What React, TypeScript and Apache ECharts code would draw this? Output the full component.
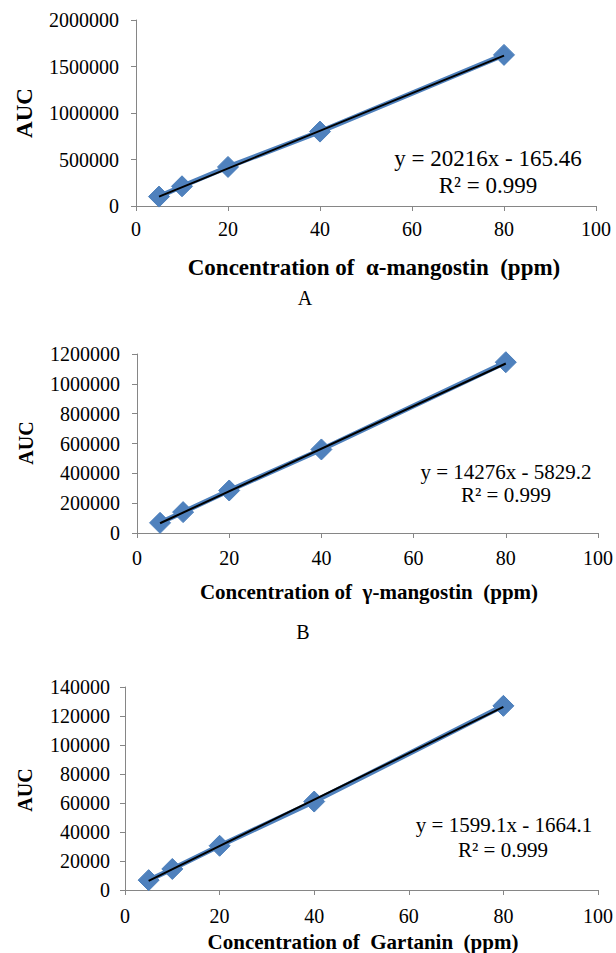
import React, { useEffect, useRef } from "react";
import * as echarts from "echarts";

const concentrations = [5, 10, 20, 40, 80];
const aucAlpha = [101000, 212000, 420000, 800000, 1625000];
const aucGamma = [68000, 140000, 285000, 560000, 1145000];
const aucGartanin = [6800, 14500, 30500, 61000, 127000];

// trendline endpoints (x = 5 and x = 80) as drawn in the picture
const trendX = [5, 80];
const trendAlpha = [100915, 1617115];
const trendGamma = [65551, 1136251];
const trendGartanin = [6331, 126264];

const xTicks = { min: 0, max: 100, interval: 20 };
const yMaxes = [2000000, 1200000, 140000];
const yIntervals = [500000, 200000, 20000];

const equations = ["y = 20216x - 165.46", "y = 14276x - 5829.2", "y = 1599.1x - 1664.1"];
const r2Labels = ["R² = 0.999", "R² = 0.999", "R² = 0.999"];
const xTitles = [
  "Concentration of  α-mangostin  (ppm)",
  "Concentration of  γ-mangostin  (ppm)",
  "Concentration of  Gartanin  (ppm)",
];
const panelLetters = ["A", "B"];
const yTitle = "AUC";

const FONT = "Liberation Serif";
const BLUE = "#4f81bd";
const AXIS = "#868686";

export default function App() {
  const ref = useRef<HTMLDivElement>(null);
  useEffect(() => {
    if (!ref.current) return;
    const chart = echarts.init(ref.current, undefined, { renderer: "svg" });
    const grids = [
      { left: 136, top: 20, width: 460, height: 186 },
      { left: 137, top: 354, width: 461, height: 179 },
      { left: 125, top: 687, width: 473, height: 203 },
    ];
    const datasets = [aucAlpha, aucGamma, aucGartanin];
    const trends = [trendAlpha, trendGamma, trendGartanin];
    const xLabelMargins = [13, 15, 16];
    const yLabelMargins = [17, 17, 15];

    const labelStyle = {
      color: "#000",
      fontFamily: FONT,
      fontSize: 20,
      formatter: (v: number) => String(v),
    };

    const xAxis = grids.map((_, i) => ({
      type: "value",
      gridIndex: i,
      min: xTicks.min,
      max: xTicks.max,
      interval: xTicks.interval,
      axisLine: { show: true, lineStyle: { color: AXIS, width: 1 } },
      axisTick: { show: true, length: 5, lineStyle: { color: AXIS } },
      splitLine: { show: false },
      axisLabel: { ...labelStyle, margin: xLabelMargins[i] },
    }));
    const yAxis = grids.map((_, i) => ({
      type: "value",
      gridIndex: i,
      min: 0,
      max: yMaxes[i],
      interval: yIntervals[i],
      axisLine: { show: true, lineStyle: { color: AXIS, width: 1 } },
      axisTick: { show: true, length: 5, lineStyle: { color: AXIS } },
      splitLine: { show: false },
      axisLabel: { ...labelStyle, margin: yLabelMargins[i] },
    }));

    const series: any[] = [];
    grids.forEach((_, i) => {
      series.push({
        type: "line",
        xAxisIndex: i,
        yAxisIndex: i,
        data: concentrations.map((c, k) => [c, datasets[i][k]]),
        symbol: "diamond",
        symbolSize: 21,
        lineStyle: { color: BLUE, width: 5 },
        itemStyle: { color: BLUE, borderColor: "#4a7ebb", borderWidth: 1 },
        z: 2,
      });
      series.push({
        type: "line",
        xAxisIndex: i,
        yAxisIndex: i,
        data: trendX.map((x, k) => [x, trends[i][k]]),
        symbol: "none",
        lineStyle: { color: "#000", width: 2 },
        z: 3,
      });
    });

    const txt = (x: number, y: number, text: string, size: number, bold = false, rotation = 0) => ({
      type: "text",
      x,
      y,
      rotation,
      style: {
        text,
        fill: "#000",
        fontFamily: FONT,
        fontSize: size,
        fontWeight: bold ? "bold" : "normal",
        textAlign: "center",
        textVerticalAlign: "middle",
      },
    });

    const graphic = [
      txt(24, 113, yTitle, 23, true, Math.PI / 2),
      txt(374, 267, xTitles[0], 23, true),
      txt(305, 298, panelLetters[0], 20),
      txt(488, 158, equations[0], 23),
      txt(488, 185, r2Labels[0], 23),

      txt(26, 443, yTitle, 20, true, Math.PI / 2),
      txt(369, 592, xTitles[1], 21, true),
      txt(303, 632, panelLetters[1], 20),
      txt(506, 472, equations[1], 21),
      txt(506, 495, r2Labels[1], 21),

      txt(25, 790, yTitle, 20, true, Math.PI / 2),
      txt(363, 942, xTitles[2], 21, true),
      txt(504, 825, equations[2], 21),
      txt(503, 850, r2Labels[2], 21),
    ];

    chart.setOption({
      animation: false,
      backgroundColor: "#fff",
      textStyle: { fontFamily: FONT, color: "#000" },
      grid: grids,
      xAxis,
      yAxis,
      series,
      graphic,
    });
    return () => chart.dispose();
  }, []);
  return (
    <div
      ref={ref}
      style={{ position: "absolute", left: 0, top: 0, width: 616, height: 953, background: "#fff" }}
    />
  );
}
